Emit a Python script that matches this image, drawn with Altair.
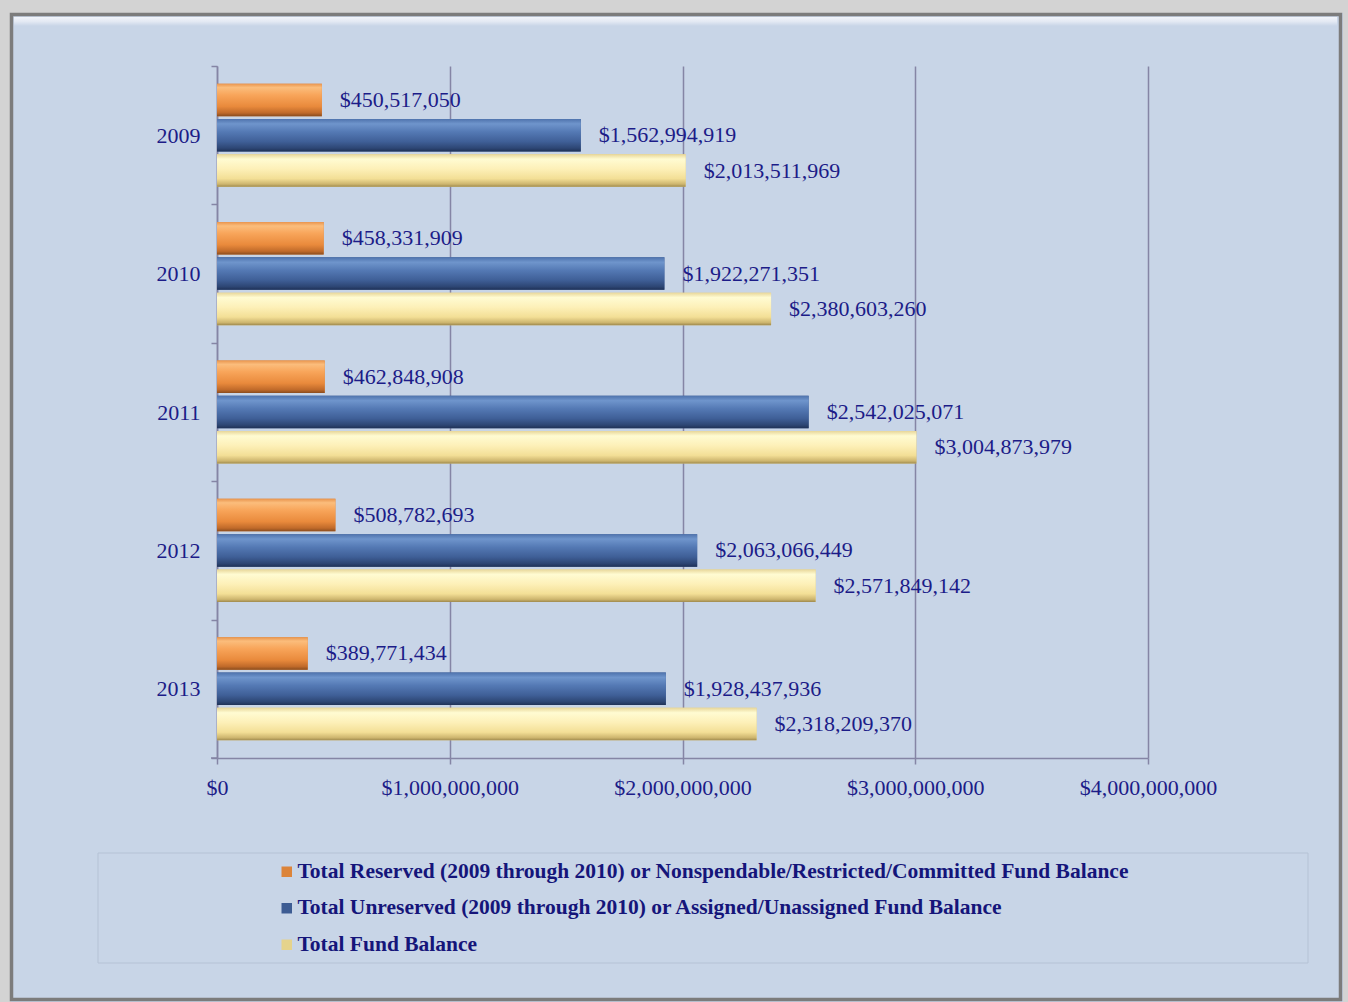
import altair as alt
import pandas as pd

# Fund balance by fiscal year
years = ["2009", "2010", "2011", "2012", "2013"]
reserved = [450517050, 458331909, 462848908, 508782693, 389771434]
unreserved = [1562994919, 1922271351, 2542025071, 2063066449, 1928437936]
total = [2013511969, 2380603260, 3004873979, 2571849142, 2318209370]

series = [
    "Total Reserved (2009 through 2010) or Nonspendable/Restricted/Committed Fund Balance",
    "Total Unreserved (2009 through 2010) or Assigned/Unassigned Fund Balance",
    "Total Fund Balance",
]
x_ticks = [0, 1000000000, 2000000000, 3000000000, 4000000000]

rows = []
for name, vals in zip(series, [reserved, unreserved, total]):
    for y, v in zip(years, vals):
        rows.append({"year": y, "series": name, "value": v})
df = pd.DataFrame(rows)

NAVY = "#1c1c88"
AXIS = "#8585a5"
PANEL = "#c8d5e7"
FONT = "Liberation Serif"

flat_colors = ["#dc843a", "#3d5c93", "#e5d38c"]


def grad(stops):
    return alt.Gradient(
        gradient="linear", x1=0, y1=0, x2=0, y2=1,
        stops=[alt.GradientStop(offset=o, color=c) for o, c in stops],
    )


gradients = [
    grad([(0, "#e9954e"), (0.12, "#fbbd7c"), (0.35, "#f8a55a"), (0.7, "#e98a3c"), (0.9, "#c06a2a"), (1, "#8a4c1e")]),
    grad([(0, "#4f73ad"), (0.15, "#6f95cc"), (0.4, "#5479b4"), (0.7, "#3f5f97"), (0.9, "#2d4674"), (1, "#1f3156")]),
    grad([(0, "#e8d79a"), (0.15, "#fffbd2"), (0.45, "#fdf0b8"), (0.75, "#f3df96"), (0.92, "#cdb56e"), (1, "#9f8a4e")]),
]

base = alt.Chart(df).encode(
    y=alt.Y(
        "year:N",
        sort=years,
        scale=alt.Scale(paddingInner=0, paddingOuter=0),
        axis=alt.Axis(
            title=None, tickBand="extent", tickSize=6, tickColor=AXIS, tickWidth=1.5,
            domainColor=AXIS, domainWidth=1.5, labelFont=FONT, labelFontSize=22,
            labelColor=NAVY, labelPadding=11, grid=False,
        ),
    ),
    yOffset=alt.YOffset(
        "series:N",
        sort=series,
        scale=alt.Scale(domain=series, paddingInner=0.08, paddingOuter=0.5),
    ),
    x=alt.X(
        "value:Q",
        scale=alt.Scale(domain=[0, 4000000000], nice=False),
        axis=alt.Axis(
            title=None, values=x_ticks, format="$,.0f", grid=True, gridColor=AXIS,
            gridWidth=1.5, tickSize=6, tickColor=AXIS, tickWidth=1.5, domainColor=AXIS,
            domainWidth=1.5, labelFont=FONT, labelFontSize=22, labelColor=NAVY,
            labelPadding=13, labelFlush=False, labelOverlap=False,
        ),
    ),
)

# flat bars drive the legend; shaded bars are drawn over them
legend_bars = base.mark_bar().encode(
    color=alt.Color(
        "series:N",
        sort=series,
        scale=alt.Scale(domain=series, range=flat_colors),
        legend=alt.Legend(
            orient="none", legendX=59, legendY=795, title=None, symbolType="square",
            symbolSize=110, symbolStrokeWidth=0, labelFont=FONT, labelFontWeight="bold",
            labelFontSize=21.5, labelColor="#15157a", rowPadding=13.5, labelLimit=1300,
            labelOffset=0, padding=0,
        ),
    )
)

shaded = [
    base.mark_bar(fill=g).transform_filter(alt.datum.series == s)
    for s, g in zip(series, gradients)
]

labels = base.mark_text(
    align="left", baseline="middle", dx=18, font=FONT, fontSize=22, color=NAVY
).encode(text=alt.Text("value:Q", format="$,.0f"))

one = alt.Data(values=[{}])


def box(x, x2, y, y2, **kw):
    return alt.Chart(one).mark_rect(**kw).encode(
        x=alt.value(x), x2=alt.value(x2), y=alt.value(y), y2=alt.value(y2)
    )


frame = [
    box(-217, 1131, -66, -53, fill="#d3d3d3"),
    box(-217, -206, -66, 936, fill="#d3d3d3"),
    box(1126, 1131, -66, 936, fill="#d3d3d3"),
    box(-203, 1120, -49, -40,
        fill=grad([(0, "#f2f5fb"), (0.5, "#e3e9f3"), (1, PANEL)])),
    box(-205.5, 1123.5, -51.5, 933.5, fill="transparent", stroke="#7c7c7c", strokeWidth=3.5),
    box(-119, 1091, 787, 897, fill="transparent", stroke="#b5c2d5", strokeWidth=1),
]

corner_tick = alt.Chart(one).mark_rule(color=AXIS, strokeWidth=1.5).encode(
    x=alt.value(-6), x2=alt.value(0), y=alt.value(692)
)

chart = alt.layer(
    *frame, legend_bars, *shaded, labels, corner_tick
).properties(
    width=931,
    height=692,
    autosize=alt.AutoSizeParams(type="none"),
    padding={"left": 217, "top": 66, "right": 200, "bottom": 244},
    background=PANEL,
).configure_view(strokeWidth=0)

chart.save("out.html", embed_options={"renderer": "svg", "actions": False})
